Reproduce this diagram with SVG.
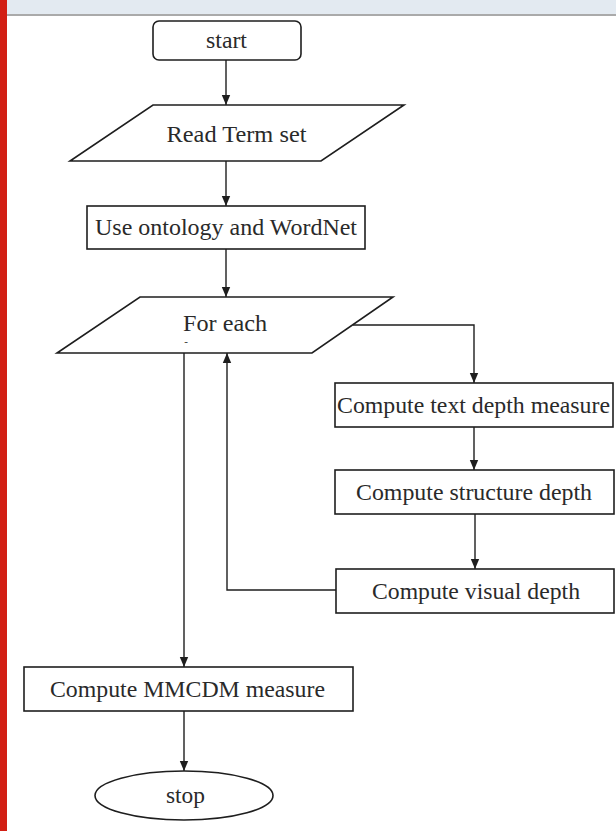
<svg xmlns="http://www.w3.org/2000/svg" width="616" height="831" viewBox="0 0 616 831">
  <style>
    .shape { fill: #ffffff; stroke: #1e1e1e; stroke-width: 1.6; }
    .label { font-family: "Liberation Serif", "Times New Roman", Times, "DejaVu Serif", serif; font-size: 23px; fill: #2a2a2a; text-anchor: middle; }
    .wire { fill: none; stroke: #1e1e1e; stroke-width: 1.4; }
  </style>
  <defs>
    <marker id="arrow" markerUnits="userSpaceOnUse" markerWidth="10" markerHeight="10" viewBox="0 0 10 10" refX="10" refY="5" orient="auto">
      <path d="M0,0.8 L10,5 L0,9.2 Z" fill="#1e1e1e"/>
    </marker>
  </defs>

  <!-- page background, header strip and side accent -->
  <rect x="0" y="0" width="616" height="831" fill="#ffffff"/>
  <rect x="0" y="0" width="616" height="14" fill="#e3eaf1"/>
  <rect x="0" y="14" width="616" height="2" fill="#aaaaaa"/>
  <rect x="0" y="0" width="7" height="831" fill="#d21f14"/>

  <!-- connectors -->
  <g id="connectors">
    <line class="wire" x1="226" y1="60" x2="226" y2="105" marker-end="url(#arrow)"/>
    <line class="wire" x1="226" y1="161" x2="226" y2="206" marker-end="url(#arrow)"/>
    <line class="wire" x1="226" y1="249" x2="226" y2="297" marker-end="url(#arrow)"/>
    <polyline class="wire" points="353,325 474,325 474,383" marker-end="url(#arrow)"/>
    <line class="wire" x1="474" y1="427" x2="474" y2="470" marker-end="url(#arrow)"/>
    <line class="wire" x1="475" y1="514" x2="475" y2="569" marker-end="url(#arrow)"/>
    <polyline class="wire" points="336,590 227,590 227,353" marker-end="url(#arrow)"/>
    <line class="wire" x1="184" y1="353" x2="184" y2="667" marker-end="url(#arrow)"/>
    <line class="wire" x1="184" y1="711" x2="184" y2="771" marker-end="url(#arrow)"/>
  </g>

  <g id="start">
    <rect class="shape" x="153" y="21" width="148" height="39" rx="6"/>
    <text class="label" x="226.5" y="48" textLength="41" lengthAdjust="spacingAndGlyphs">start</text>
  </g>

  <g id="read-term-set">
    <polygon class="shape" points="153,105 404,105 321,161 70,161"/>
    <text class="label" x="236.5" y="141.5" textLength="140" lengthAdjust="spacingAndGlyphs">Read Term set</text>
  </g>

  <g id="use-ontology">
    <rect class="shape" x="87" y="206" width="278" height="43"/>
    <text class="label" x="226" y="235" textLength="262" lengthAdjust="spacingAndGlyphs">Use ontology and WordNet</text>
  </g>

  <g id="for-each">
    <polygon class="shape" points="140,297 393,297 312,353 57,353"/>
    <text class="label" x="225" y="331" textLength="84" lengthAdjust="spacingAndGlyphs">For each</text>
    <text class="label" x="186" y="345" style="font-size:11px">-</text>
  </g>

  <g id="text-depth">
    <rect class="shape" x="335" y="383" width="278" height="44"/>
    <text class="label" x="473.5" y="412.5" textLength="273" lengthAdjust="spacingAndGlyphs">Compute text depth measure</text>
  </g>

  <g id="structure-depth">
    <rect class="shape" x="335" y="470" width="279" height="44"/>
    <text class="label" x="474" y="499.5" textLength="236" lengthAdjust="spacingAndGlyphs">Compute structure depth</text>
  </g>

  <g id="visual-depth">
    <rect class="shape" x="336" y="569" width="278" height="44"/>
    <text class="label" x="476" y="598.5" textLength="208" lengthAdjust="spacingAndGlyphs">Compute visual depth</text>
  </g>

  <g id="mmcdm">
    <rect class="shape" x="24" y="667" width="329" height="44"/>
    <text class="label" x="187.5" y="697" textLength="275" lengthAdjust="spacingAndGlyphs">Compute MMCDM measure</text>
  </g>

  <g id="stop">
    <ellipse class="shape" cx="184" cy="795.5" rx="89" ry="24.5"/>
    <text class="label" x="185.5" y="803" textLength="39" lengthAdjust="spacingAndGlyphs">stop</text>
  </g>
</svg>
